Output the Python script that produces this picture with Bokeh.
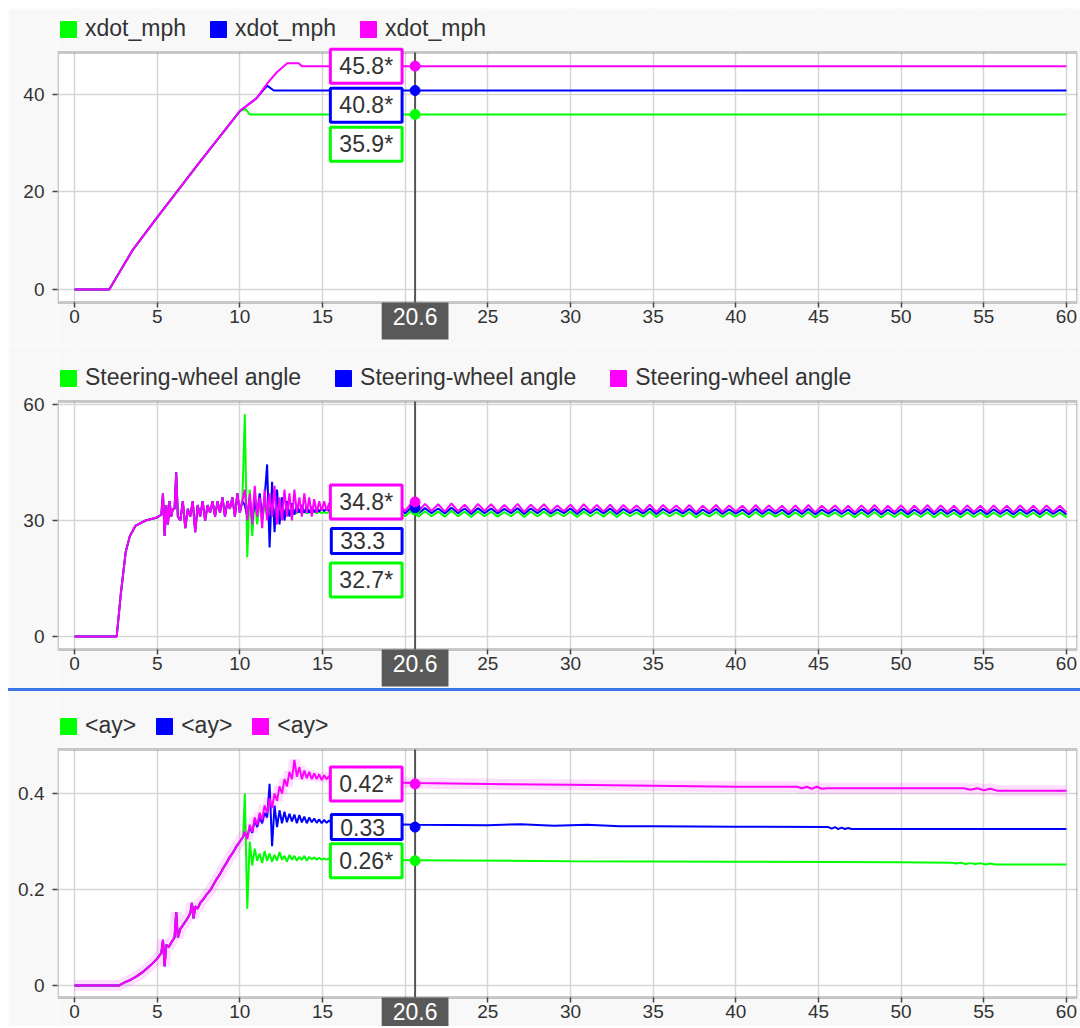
import numpy as np
from bokeh.plotting import figure
from bokeh.models import (Range1d, FixedTicker, Label, Legend, LegendItem, Div,
                          BoxAnnotation)
from bokeh.layouts import column
from bokeh.embed import file_html
from bokeh.resources import INLINE

FONT = "Liberation Sans"
GREEN, BLUE, PINK = "#00ff00", "#0000ff", "#ff00ff"
COLORS = [GREEN, BLUE, PINK]

# ---------------- shared x axis ----------------
X_TICKS = [0, 5, 10, 15, 20, 25, 30, 35, 40, 45, 50, 55, 60]
X_START, X_END = -1.03, 60.67
CURSOR_T = 20.6
CURSOR_TEXT = "20.6"

# ---------------- panel 1 : xdot_mph ----------------
SPD_NAMES = ["xdot_mph", "xdot_mph", "xdot_mph"]
SPD_T_RAMP = [0, 2.1, 3.5, 5.0, 7.5, 10.0]
SPD_V_RAMP = [0, 0, 8.0, 14.8, 25.8, 36.6]
SPD_T_GREEN = [10.35, 10.6, 60]
SPD_V_GREEN = [37.0, 35.9, 35.9]
SPD_T_BLUE = [11.0, 11.65, 12.05, 60]
SPD_V_BLUE = [39.2, 41.8, 40.8, 40.8]
SPD_T_PINK = [11.0, 11.65, 12.25, 12.87, 13.56, 13.76, 60]
SPD_V_PINK = [39.2, 42.2, 44.6, 46.4, 46.4, 45.8, 45.8]
SPD_CURSOR_VALS = [35.9, 40.8, 45.8]
SPD_CURSOR_TEXT = ["35.9*", "40.8*", "45.8*"]
SPD_YTICKS = [0, 20, 40]
SPD_YLABELS = ["0", "20", "40"]
SPD_Y_LO, SPD_Y_HI = -2.67, 48.6

# ---------------- panel 2 : steering-wheel angle ----------------
STR_NAMES = ["Steering-wheel angle"] * 3
STR_T_A = [0, 2.55, 2.8, 3.1, 3.35, 3.7, 4.3, 5.0,
           5.25, 5.35, 5.45, 5.55, 5.65, 5.75, 5.85, 5.95, 6.05, 6.15, 6.25,
           6.4, 6.55, 6.7, 6.85, 7.0, 7.15, 7.3, 7.45, 7.6, 7.75, 7.9, 8.05, 8.2,
           8.35, 8.5, 8.65, 8.8, 8.95, 9.1, 9.25, 9.4, 9.55, 9.7, 9.85, 10.0, 10.15]
STR_V_A = [0, 0, 11, 22, 26, 28.7, 30, 30.8,
           31.5, 37, 26, 34, 29, 35, 31, 33, 33, 42.5, 31,
           30, 35, 28, 33, 31, 35, 27, 34, 31, 35, 30, 34, 32,
           35, 31, 35, 32, 36, 31, 35, 33, 36, 31, 37, 32, 35]
STR_B_T0, STR_B_DT = 10.3, 0.15
STR_GREEN_B = [57.5, 20.5, 38, 26, 36, 29, 35, 30, 34, 31,
               33.5, 31, 33, 31.5, 33, 31.5, 32.8, 31.6, 32.6, 31.7,
               32.6, 31.8, 32.5, 31.8, 32.4, 31.8, 32.4, 31.9, 32.3, 31.9,
               32.3, 31.9, 32.2, 31.9, 32.2, 31.9, 32.2, 32.0, 32.1]
STR_BLUE_B = [34, 31, 36, 30, 35, 32, 37, 31, 36, 44.5,
              23, 40, 27, 38, 29, 36, 30, 35, 31, 34.5,
              31.5, 34, 32, 34, 32, 33.5, 32, 33.5, 32.2, 33.3,
              32.3, 33.2, 32.4, 33.2, 32.5, 33.1, 32.5, 33, 32.6]
STR_PINK_B = [38, 30, 37, 29, 39, 31, 36, 28, 38, 30,
              37, 31, 39, 29, 36, 30, 38, 31, 37, 30,
              38, 32, 36, 31, 37, 32, 36, 31, 35.5, 32,
              35, 32.5, 35, 32.5, 34.5, 33, 34.5, 33, 34]
STR_C_T0, STR_C_DT = 16.4, 0.4
STR_GREEN_C = [32.5, 31.1, 32.6, 31.0, 32.4, 31.2, 32.5, 31.0, 32.6, 31.1,
               32.7, 31.0, 32.4, 31.1, 32.3, 31.0, 32.5, 31.1, 32.3, 30.9,
               32.4, 31.1, 32.3, 31.0, 32.2, 31.1, 32.4, 30.9, 32.3, 31.1,
               32.3, 31.0, 32.1, 31.1, 32.3, 30.9, 32.3, 31.1, 32.2, 31.0,
               32.3, 30.9, 32.2, 31.1, 32.1, 31.0, 32.3, 30.9, 32.2, 31.1,
               32.1, 31.0, 32.2, 30.8, 32.0, 31.0, 32.2, 30.9, 32.1, 31.0,
               32.0, 30.8, 32.2, 30.9, 32.1, 31.0, 32.0, 30.8, 32.1, 30.9,
               32.2, 30.8, 32.0, 31.0, 32.1, 30.9, 32.0, 30.8, 32.1, 30.9,
               32.2, 30.8, 32.0, 30.9, 32.1, 30.8, 32.0, 30.9, 32.2, 30.8,
               32.1, 30.9, 32.0, 30.8, 32.1, 30.9, 32.0, 30.8, 32.1, 30.9,
               32.0, 30.8, 32.1, 30.9, 32.0, 30.8, 32.1, 30.9, 32.0, 30.8]
STR_BLUE_C = [33.3, 31.9, 33.4, 31.8, 33.2, 31.9, 33.3, 31.7, 33.4, 31.9,
              33.5, 31.8, 33.2, 31.9, 33.1, 31.8, 33.3, 31.9, 33.1, 31.7,
              33.2, 31.9, 33.1, 31.8, 33.0, 31.9, 33.2, 31.7, 33.1, 31.9,
              33.1, 31.8, 32.9, 31.9, 33.1, 31.7, 33.1, 31.9, 33.0, 31.8,
              33.1, 31.7, 33.0, 31.9, 32.9, 31.8, 33.1, 31.7, 33.0, 31.9,
              32.9, 31.8, 33.0, 31.6, 32.8, 31.8, 33.0, 31.7, 32.9, 31.8,
              32.8, 31.6, 33.0, 31.7, 32.9, 31.8, 32.8, 31.6, 32.9, 31.7,
              33.0, 31.6, 32.8, 31.8, 32.9, 31.7, 32.8, 31.6, 32.9, 31.7,
              33.0, 31.6, 32.8, 31.7, 32.9, 31.6, 32.8, 31.7, 33.0, 31.6,
              32.9, 31.7, 32.8, 31.6, 32.9, 31.7, 32.8, 31.6, 32.9, 31.7,
              32.8, 31.6, 32.9, 31.7, 32.8, 31.6, 32.9, 31.7, 32.8, 31.6]
STR_PINK_C = [34.3, 32.4, 34.5, 32.3, 34.2, 32.5, 34.4, 32.2, 34.6, 32.4,
              34.7, 32.3, 34.3, 32.5, 34.2, 32.3, 34.4, 32.4, 34.1, 32.2,
              34.3, 32.5, 34.2, 32.3, 34.0, 32.4, 34.3, 32.2, 34.1, 32.5,
              34.2, 32.3, 33.9, 32.4, 34.1, 32.2, 34.2, 32.4, 34.0, 32.3,
              34.1, 32.2, 34.0, 32.4, 33.9, 32.3, 34.1, 32.2, 34.0, 32.4,
              33.9, 32.3, 34.0, 32.1, 33.8, 32.3, 34.0, 32.2, 33.9, 32.3,
              33.8, 32.1, 34.0, 32.2, 33.9, 32.3, 33.8, 32.1, 33.9, 32.2,
              34.0, 32.1, 33.8, 32.3, 33.9, 32.2, 33.8, 32.1, 33.9, 32.2,
              34.0, 32.1, 33.8, 32.2, 33.9, 32.1, 33.8, 32.2, 34.0, 32.1,
              33.9, 32.2, 33.8, 32.1, 33.9, 32.2, 33.8, 32.1, 33.9, 32.2,
              33.8, 32.1, 33.9, 32.2, 33.8, 32.1, 33.9, 32.2, 33.8, 32.1]
STR_CURSOR_VALS = [32.7, 33.3, 34.8]
STR_CURSOR_TEXT = ["32.7*", "33.3", "34.8*"]
STR_YTICKS = [0, 30, 60]
STR_YLABELS = ["0", "30", "60"]
STR_Y_LO, STR_Y_HI = -3.36, 60.78

# ---------------- panel 3 : <ay> ----------------
AY_NAMES = ["<ay>", "<ay>", "<ay>"]
AY_T_A = [0, 2.7, 3.0, 3.4, 3.8, 4.2, 4.6, 5.0,
          5.25, 5.35, 5.45, 5.55, 5.7, 5.9,
          6.05, 6.15, 6.25, 6.4, 6.6, 6.8,
          7.0, 7.1, 7.2, 7.3, 7.45, 7.6, 7.8,
          8.0, 8.2, 8.4, 8.6, 8.8,
          9.0, 9.2, 9.4, 9.6, 9.8, 10.0, 10.2]
AY_V_A = [0, 0, 0.006, 0.012, 0.02, 0.03, 0.042, 0.056,
          0.068, 0.095, 0.04, 0.085, 0.08, 0.092,
          0.1, 0.153, 0.1, 0.118, 0.128, 0.138,
          0.15, 0.172, 0.14, 0.165, 0.16, 0.172, 0.18,
          0.19, 0.198, 0.21, 0.222, 0.232,
          0.245, 0.256, 0.268, 0.278, 0.29, 0.3, 0.31]
AY_B_T0, AY_B_DT = 10.3, 0.15
AY_GREEN_B = [0.40, 0.16, 0.30, 0.25, 0.285, 0.26, 0.275, 0.255, 0.28, 0.26,
              0.275, 0.258, 0.272, 0.26, 0.278, 0.262, 0.27, 0.258, 0.272, 0.262,
              0.27, 0.26, 0.268, 0.262, 0.27, 0.26, 0.268, 0.263, 0.267, 0.262,
              0.266, 0.262, 0.265, 0.262, 0.265, 0.263, 0.264, 0.262, 0.263]
AY_BLUE_B = [0.318, 0.31, 0.33, 0.318, 0.345, 0.33, 0.35, 0.338, 0.36, 0.35,
             0.42, 0.29, 0.375, 0.33, 0.365, 0.338, 0.362, 0.34, 0.358, 0.342,
             0.356, 0.338, 0.355, 0.34, 0.352, 0.338, 0.35, 0.34, 0.348, 0.339,
             0.346, 0.338, 0.345, 0.339, 0.344, 0.338, 0.342, 0.338, 0.34]
AY_PINK_B = [0.32, 0.305, 0.335, 0.32, 0.35, 0.335, 0.36, 0.345, 0.375, 0.36,
             0.39, 0.37, 0.4, 0.385, 0.415, 0.4, 0.43, 0.415, 0.445, 0.43,
             0.47, 0.435, 0.455, 0.43, 0.448, 0.432, 0.445, 0.43, 0.442, 0.43,
             0.44, 0.428, 0.438, 0.43, 0.436, 0.429, 0.434, 0.43, 0.432]
AY_T_GREEN_C = [16.4, 20.6, 30, 40, 50, 53.0, 53.3, 53.6, 53.9, 54.2, 54.5,
                54.8, 55.1, 55.4, 55.7, 56.0, 60]
AY_V_GREEN_C = [0.262, 0.261, 0.259, 0.258, 0.257, 0.256, 0.254, 0.256, 0.253,
                0.255, 0.253, 0.255, 0.252, 0.254, 0.252, 0.252, 0.252]
AY_T_BLUE_C = [16.4, 20.6, 25, 27, 29, 31, 33, 35, 40, 45.6, 45.8, 46.0, 46.2,
               46.4, 46.6, 46.8, 47.0, 60]
AY_V_BLUE_C = [0.338, 0.335, 0.334, 0.336, 0.333, 0.335, 0.332, 0.332, 0.331,
               0.330, 0.327, 0.330, 0.326, 0.329, 0.326, 0.328, 0.326, 0.326]
AY_T_PINK_C = [16.4, 18, 20.6, 25, 30, 35, 40, 43.7, 44.0, 44.3, 44.6, 44.9,
               45.2, 45.5, 48, 53.8, 54.2, 54.6, 55.0, 55.4, 55.8, 56.2, 60]
AY_V_PINK_C = [0.428, 0.424, 0.422, 0.42, 0.418, 0.416, 0.414, 0.414, 0.411,
               0.414, 0.41, 0.414, 0.41, 0.411, 0.411, 0.411, 0.408, 0.411,
               0.407, 0.410, 0.406, 0.406, 0.406]
AY_CURSOR_VALS = [0.26, 0.33, 0.42]
AY_CURSOR_TEXT = ["0.26*", "0.33", "0.42*"]
AY_YTICKS = [0, 0.2, 0.4]
AY_YLABELS = ["0", "0.2", "0.4"]
AY_Y_LO, AY_Y_HI = -0.025, 0.4917

# ---------------- layout / style constants ----------------
W = 1072
BG = "#f8f8f8"
TXT = "#333333"
FRAME_LINE = "#505050"


def grid(t0, dt, n):
    return list(t0 + dt * np.arange(n))


def make_panel(height, pa_top, pa_bot, y_lo, y_hi, yticks, ylabels, names,
               series, cursor_vals, cursor_text, legend_spacing, glow=False):
    # the frame spans the whole figure height; the plotting area is the
    # band [y_lo, y_hi], the bands above/below hold legend and x labels
    ppu = (pa_bot - pa_top) / (y_hi - y_lo)
    y_start = y_lo - (height - pa_bot) / ppu
    y_end = y_hi + pa_top / ppu
    p = figure(width=W, height=height, x_range=Range1d(X_START, X_END),
               y_range=Range1d(y_start, y_end), output_backend="svg",
               toolbar_location=None, tools="",
               min_border_left=49, min_border_right=3,
               min_border_top=0, min_border_bottom=0,
               background_fill_color="white", border_fill_color=BG,
               outline_line_color=None)

    p.xaxis.ticker = FixedTicker(ticks=X_TICKS)
    p.xaxis.fixed_location = y_lo
    p.yaxis.ticker = FixedTicker(ticks=yticks)
    p.yaxis.major_label_overrides = {t: s for t, s in zip(yticks, ylabels)}
    for ax in (p.xaxis[0], p.yaxis[0]):
        ax.axis_line_color = None
        ax.major_tick_line_color = "#444444"
        ax.major_tick_line_width = 1.5
        ax.major_tick_out = 5
        ax.major_tick_in = 0
        ax.minor_tick_line_color = None
        ax.major_label_text_font = FONT
        ax.major_label_text_font_size = "19px"
        ax.major_label_text_color = TXT
    p.xaxis.major_label_standoff = 2
    p.yaxis.major_label_standoff = 8
    p.xgrid.ticker = FixedTicker(ticks=X_TICKS)
    p.ygrid.ticker = FixedTicker(ticks=yticks)
    for g in (p.xgrid[0], p.ygrid[0]):
        g.grid_line_color = "#d6d6d6"
        g.grid_line_width = 1.5

    # grey bands above and below the plotting area, then its border
    p.add_layout(BoxAnnotation(bottom=y_hi, fill_color=BG, fill_alpha=1,
                               line_color=None, level="underlay"))
    p.add_layout(BoxAnnotation(top=y_lo, fill_color=BG, fill_alpha=1,
                               line_color=None, level="underlay"))
    p.add_layout(BoxAnnotation(bottom=y_lo, top=y_hi, fill_alpha=0,
                               line_color=FRAME_LINE, line_width=3,
                               level="underlay"))

    # series lines (green, blue, pink order -> pink on top)
    for (t, v), c in zip(series, COLORS):
        if glow and c == PINK:
            p.line(t, v, line_color=PINK, line_width=11, line_alpha=0.13)
        p.line(t, v, line_color=c, line_width=2)

    # cursor line and the points where it crosses the series
    p.segment(x0=[CURSOR_T], y0=[y_lo], x1=[CURSOR_T], y1=[y_hi],
              line_color="#555555", line_width=2)
    p.scatter(x=[CURSOR_T] * len(cursor_vals), y=cursor_vals, color=COLORS,
              size=10)

    # value boxes, stacked downward to avoid overlap
    order = sorted(range(len(cursor_vals)), key=lambda i: -cursor_vals[i])
    prev = None
    for i in order:
        natural = (y_hi - cursor_vals[i]) * ppu
        placed = natural
        if prev is not None and natural - prev < 33:
            placed = prev + 39
        prev = placed
        txt = cursor_text[i]
        pad_r = 9 if txt.endswith("*") else 17
        p.add_layout(Label(x=CURSOR_T, y=cursor_vals[i], x_offset=-13,
                           y_offset=-(placed - natural), text=txt,
                           anchor="center_right", text_font=FONT,
                           text_font_size="23px", text_color=TXT,
                           background_fill_color="white",
                           border_line_color=COLORS[i], border_line_width=3,
                           padding=dict(left=9, right=pad_r, top=4, bottom=4)))

    # cursor value box on the x axis
    p.add_layout(Label(x=CURSOR_T, y=y_lo, text=CURSOR_TEXT,
                       anchor="top_center", text_font=FONT,
                       text_font_size="23px", text_color="white",
                       background_fill_color="#595959",
                       padding=dict(left=11, right=11, top=5, bottom=15)))

    # legend with square swatches, in the band above the plotting area
    items = []
    for name, c in zip(names, COLORS):
        r = p.quad(left=[np.nan], right=[np.nan], top=[np.nan],
                   bottom=[np.nan], fill_color=c, line_color=c)
        items.append(LegendItem(label=name, renderers=[r]))
    leg = Legend(items=items, location=(1, height - pa_top + 10),
                 orientation="horizontal", glyph_width=20, glyph_height=20,
                 label_standoff=7, spacing=legend_spacing, padding=0, margin=0,
                 label_height=20, background_fill_alpha=0,
                 border_line_alpha=0, label_text_font=FONT,
                 label_text_font_size="23px", label_text_color=TXT)
    p.add_layout(leg)
    return p


spd_series = [
    (SPD_T_RAMP + SPD_T_GREEN, SPD_V_RAMP + SPD_V_GREEN),
    (SPD_T_RAMP + SPD_T_BLUE, SPD_V_RAMP + SPD_V_BLUE),
    (SPD_T_RAMP + SPD_T_PINK, SPD_V_RAMP + SPD_V_PINK),
]
str_series = []
for b, cc in ((STR_GREEN_B, STR_GREEN_C), (STR_BLUE_B, STR_BLUE_C),
              (STR_PINK_B, STR_PINK_C)):
    t = STR_T_A + grid(STR_B_T0, STR_B_DT, len(b)) + grid(STR_C_T0, STR_C_DT, len(cc))
    v = STR_V_A + b + cc
    str_series.append((t, v))
ay_series = []
for b, tc, vc in ((AY_GREEN_B, AY_T_GREEN_C, AY_V_GREEN_C),
                  (AY_BLUE_B, AY_T_BLUE_C, AY_V_BLUE_C),
                  (AY_PINK_B, AY_T_PINK_C, AY_V_PINK_C)):
    t = AY_T_A + grid(AY_B_T0, AY_B_DT, len(b)) + tc
    v = AY_V_A + b + vc
    ay_series.append((t, v))

p1 = make_panel(337, 44, 294, SPD_Y_LO, SPD_Y_HI, SPD_YTICKS, SPD_YLABELS,
                SPD_NAMES, spd_series, SPD_CURSOR_VALS, SPD_CURSOR_TEXT, 22)
p2 = make_panel(343, 56, 304, STR_Y_LO, STR_Y_HI, STR_YTICKS, STR_YLABELS,
                STR_NAMES, str_series, STR_CURSOR_VALS, STR_CURSOR_TEXT, 32)
sep = Div(width=W, height=3, margin=(0, 0, 0, 0),
          styles={"background-color": "#3a78e6"})
p3 = make_panel(335, 58, 306, AY_Y_LO, AY_Y_HI, AY_YTICKS, AY_YLABELS,
                AY_NAMES, ay_series, AY_CURSOR_VALS, AY_CURSOR_TEXT, 18,
                glow=True)

layout = column(p1, p2, sep, p3, spacing=0, margin=(8, 0, 0, 8))
open("out.html", "w").write(file_html(layout, INLINE))
